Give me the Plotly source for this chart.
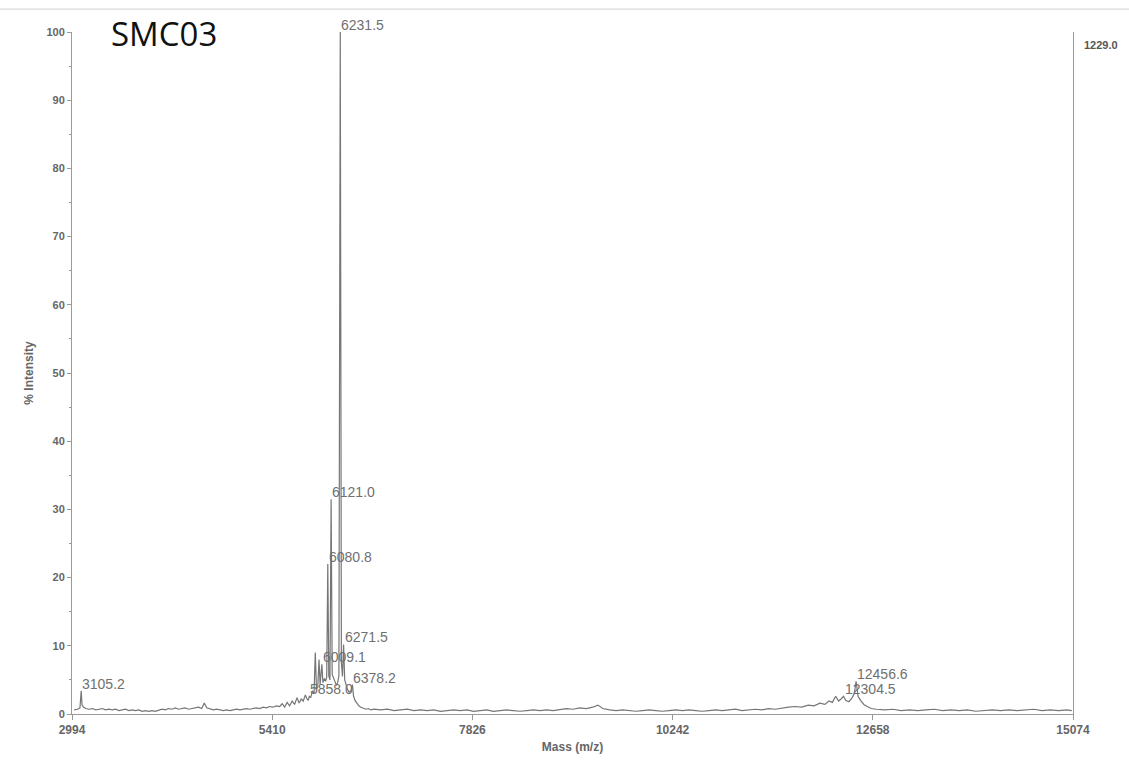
import plotly.graph_objects as go

# ---- spectrum data (mass m/z, % intensity) ----
seg_start_mass = [3020, 3060, 3090, 3105.2, 3115, 3135]
seg_start_int = [0.6, 0.7, 0.9, 3.4, 1.3, 1.0]

seg_low_mass = [3160, 3200, 3240, 3280, 3320, 3360, 3400, 3440, 3480, 3520, 3560, 3600,
                3640, 3680, 3720, 3760, 3800, 3840, 3880, 3920, 3960, 4000, 4040, 4080,
                4120, 4160, 4200, 4240, 4280, 4320, 4360, 4400, 4440, 4480, 4520, 4560,
                4590, 4620, 4660, 4700, 4740, 4780, 4820, 4860, 4900, 4940, 4980, 5020,
                5060, 5100, 5140, 5180, 5220, 5260, 5300, 5340, 5380, 5420, 5460]
seg_low_int = [0.8, 0.7, 0.8, 0.6, 0.7, 0.8, 0.6, 0.7, 0.6, 0.7, 0.5, 0.6,
               0.7, 0.5, 0.6, 0.5, 0.6, 0.4, 0.5, 0.4, 0.5, 0.4, 0.6, 0.7,
               0.6, 0.8, 0.7, 0.9, 0.7, 0.8, 0.9, 0.7, 0.8, 0.9, 1.0, 0.8,
               1.6, 0.9, 0.7, 0.6, 0.7, 0.6, 0.5, 0.6, 0.5, 0.6, 0.7, 0.6,
               0.7, 0.8, 0.7, 0.8, 0.9, 0.8, 1.0, 0.9, 1.1, 1.0, 1.2]

seg_cluster_mass = [5500, 5530, 5560, 5590, 5620, 5650, 5680, 5710, 5735, 5760, 5785, 5810,
                    5830, 5845, 5858.0, 5875, 5895, 5915, 5930, 5945, 5960, 5975, 5988,
                    6009.1, 6022, 6040, 6055, 6068, 6080.8, 6093, 6107, 6121.0, 6134,
                    6150, 6168, 6185, 6200, 6215, 6231.5, 6245, 6258, 6271.5, 6285, 6300,
                    6318, 6340, 6360, 6378.2, 6392, 6410, 6430, 6455, 6480, 6510, 6540,
                    6570, 6600]
seg_cluster_int = [1.1, 1.5, 1.0, 1.7, 1.2, 1.9, 1.4, 2.4, 1.6, 2.2, 1.9, 2.8,
                   2.2, 2.0, 2.6, 2.4, 3.4, 3.0, 9.0, 3.6, 4.0, 8.0, 4.3,
                   7.3, 4.6, 5.2, 4.8, 5.4, 22.0, 5.6, 5.0, 31.5, 5.8,
                   5.2, 4.6, 4.2, 4.6, 5.6, 100.0, 7.5, 5.5, 10.2, 5.0, 4.2,
                   3.6, 3.2, 3.4, 4.3, 2.6, 2.0, 1.6, 1.2, 1.0, 0.9, 0.7,
                   0.8, 0.6]

seg_mid_mass = [6640, 6720, 6800, 6880, 6960, 7040, 7120, 7200, 7280, 7360, 7440, 7520,
                7600, 7680, 7760, 7840, 7920, 8000, 8080, 8160, 8240, 8320, 8400, 8480,
                8560, 8640, 8720, 8800, 8880, 8960, 9040, 9120, 9200, 9280, 9340, 9400,
                9480, 9560, 9640, 9720, 9800, 9880, 9960, 10040, 10120, 10200, 10280,
                10360, 10440, 10520, 10600, 10680, 10760, 10840, 10920, 11000, 11080,
                11160, 11240, 11320, 11400, 11480, 11560, 11640, 11720]
seg_mid_int = [0.7, 0.6, 0.7, 0.5, 0.6, 0.7, 0.5, 0.6, 0.5, 0.6, 0.4, 0.5,
               0.6, 0.5, 0.6, 0.4, 0.5, 0.6, 0.4, 0.5, 0.6, 0.5, 0.4, 0.5,
               0.6, 0.5, 0.6, 0.5, 0.7, 0.8, 0.7, 0.9, 0.8, 1.0, 1.3, 0.8,
               0.6, 0.5, 0.6, 0.5, 0.4, 0.5, 0.6, 0.5, 0.4, 0.5, 0.6,
               0.5, 0.6, 0.5, 0.4, 0.5, 0.6, 0.5, 0.6, 0.7, 0.5,
               0.6, 0.7, 0.6, 0.8, 0.7, 0.9, 1.0, 1.1]

seg_dimer_mass = [11800, 11880, 11950, 12020, 12080, 12130, 12170, 12210, 12245, 12275,
                  12304.5, 12330, 12370, 12410, 12435, 12456.6, 12480, 12510, 12550,
                  12590, 12640, 12700]
seg_dimer_int = [1.0, 1.3, 1.2, 1.6, 1.4, 1.9, 1.7, 2.6, 1.9, 2.2,
                 2.6, 2.0, 1.8, 2.4, 3.0, 4.8, 2.6, 2.0, 1.4,
                 1.1, 0.8, 0.7]

seg_end_mass = [12800, 12900, 13000, 13100, 13200, 13300, 13400, 13500, 13600, 13700,
                13800, 13900, 14000, 14100, 14200, 14300, 14400, 14500, 14600, 14700,
                14800, 14900, 15000, 15060]
seg_end_int = [0.6, 0.7, 0.5, 0.6, 0.5, 0.6, 0.7, 0.5, 0.6, 0.5,
               0.6, 0.4, 0.5, 0.6, 0.5, 0.6, 0.5, 0.6, 0.7, 0.5,
               0.6, 0.5, 0.6, 0.5]

label_masses = [3105.2, 5858.0, 6009.1, 6080.8, 6121.0, 6231.5, 6271.5, 6378.2, 12304.5, 12456.6]

x_ticks = [2994, 5410, 7826, 10242, 12658, 15074]
y_ticks = [0, 10, 20, 30, 40, 50, 60, 70, 80, 90, 100]
max_counts_text = "1229.0"
sample_name = "SMC03"

mass = (seg_start_mass + seg_low_mass + seg_cluster_mass + seg_mid_mass
        + seg_dimer_mass + seg_end_mass)
intensity = (seg_start_int + seg_low_int + seg_cluster_int + seg_mid_int
             + seg_dimer_int + seg_end_int)
lookup = dict(zip(mass, intensity))

GRAY_LINE = "#767676"
AXIS_GRAY = "#9a9a9a"
TEXT_GRAY = "#666666"

fig = go.Figure()
fig.add_trace(go.Scatter(x=mass, y=intensity, mode="lines",
                         line=dict(color=GRAY_LINE, width=1.2), hoverinfo="x+y",
                         showlegend=False))

annotations = []
for m in label_masses:
    annotations.append(dict(x=m, y=lookup[m], xref="x", yref="y", text=f"{m:.1f}",
                            showarrow=False, xanchor="left", yanchor="bottom",
                            xshift=-1, yshift=-3,
                            font=dict(family="Liberation Sans, Arial", size=14, color="#707070")))

annotations.append(dict(x=0.037, y=0.9985, xref="paper", yref="paper", text=sample_name,
                        showarrow=False, xanchor="left", yanchor="middle",
                        font=dict(family="Open Sans", size=33, color="#111111")))
annotations.append(dict(x=1.009, y=0.981, xref="paper", yref="paper", text=max_counts_text,
                        showarrow=False, xanchor="left", yanchor="middle",
                        font=dict(family="Liberation Sans, Arial", size=11, color="#555555",
                                  weight="bold")))

fig.update_layout(
    width=1129, height=764,
    margin=dict(l=72, r=56, t=32, b=48),
    paper_bgcolor="white", plot_bgcolor="white",
    annotations=annotations,
    shapes=[dict(type="line", xref="paper", yref="paper", x0=-0.08, x1=1.06,
                 y0=1.0336, y1=1.0336, line=dict(color="#cfcfcf", width=1))],
    xaxis=dict(range=[2994, 15074], tickvals=x_ticks, ticktext=[str(v) for v in x_ticks],
               showgrid=False, zeroline=False, showline=True, linecolor=AXIS_GRAY,
               linewidth=1, ticks="outside", ticklen=5, tickcolor=AXIS_GRAY,
               tickfont=dict(family="Liberation Sans, Arial", size=12, color=TEXT_GRAY,
                             weight="bold"),
               title=dict(text="Mass (m/z)", standoff=6,
                          font=dict(family="Liberation Sans, Arial", size=12,
                                    color=TEXT_GRAY, weight="bold"))),
    yaxis=dict(range=[0, 100], tickvals=y_ticks, showgrid=False, zeroline=False,
               showline=True, mirror=True, linecolor=AXIS_GRAY, linewidth=1,
               ticks="outside", ticklen=4, tickcolor=AXIS_GRAY,
               minor=dict(dtick=5, ticks="outside", ticklen=2, tickcolor=AXIS_GRAY),
               tickfont=dict(family="Liberation Sans, Arial", size=11, color=TEXT_GRAY,
                             weight="bold"),
               title=dict(text="% Intensity", standoff=10,
                          font=dict(family="Liberation Sans, Arial", size=12,
                                    color=TEXT_GRAY, weight="bold"))),
)

fig.write_html("out.html", config={"displayModeBar": False},
               post_script="document.body.style.margin='0';document.body.style.overflow='hidden';")
